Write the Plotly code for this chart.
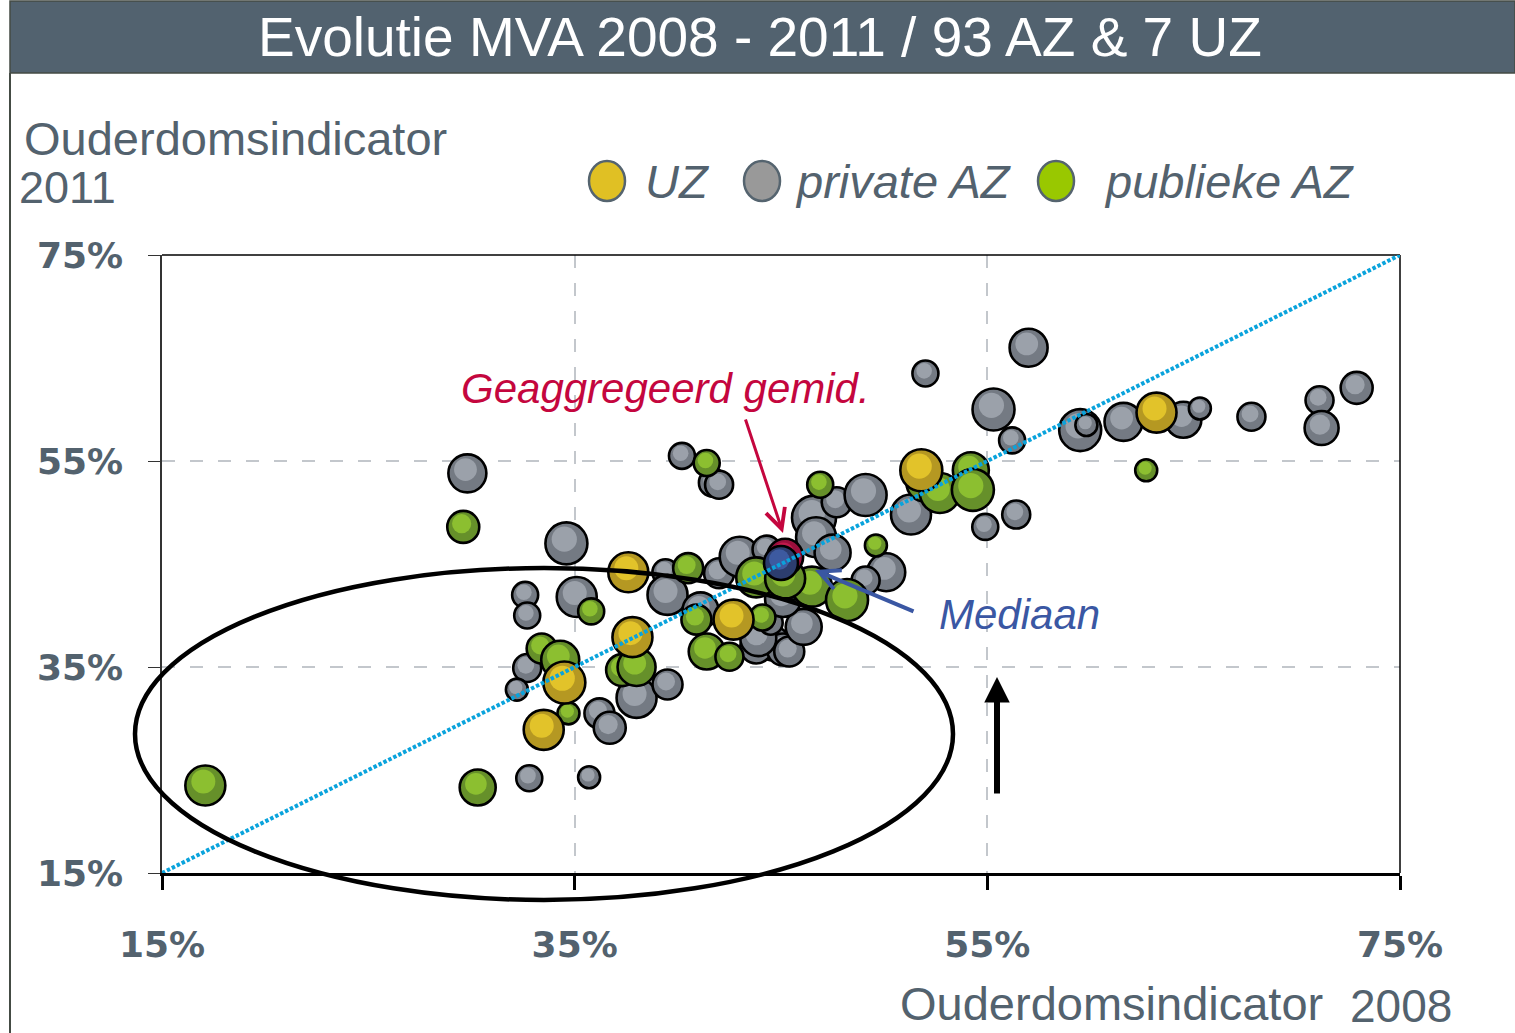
import plotly.graph_objects as go

# ---------------- data (percent) ----------------
# private AZ (grey)
private_x = [29.8, 34.6, 32.6, 32.7, 35.1, 40.2, 41.7, 42.0, 32.7, 32.2, 36.2, 36.7, 38.0, 39.5,
             32.8, 35.7, 39.4, 39.5, 41.1, 42.0, 43.0, 44.3, 44.6, 43.8, 45.1, 43.9, 45.4, 44.5,
             46.1, 46.6, 46.7, 47.5, 47.7, 49.1, 50.1, 49.1, 51.3, 52.0, 55.3, 56.2, 57.0, 54.9,
             56.4, 59.5, 59.8, 61.6, 64.5, 65.3, 67.8, 71.1, 71.2, 72.9, 45.1, 45.6]
private_y = [53.8, 47.0, 42.0, 40.0, 41.8, 55.5, 52.9, 52.7, 34.9, 32.8, 30.5, 29.1, 32.0, 33.3,
             24.2, 24.3, 44.2, 42.0, 40.5, 44.1, 45.7, 46.4, 37.3, 36.9, 36.7, 37.8, 36.5, 39.3,
             38.9, 49.5, 47.6, 46.1, 51.0, 51.7, 44.2, 43.4, 49.8, 63.5, 60.0, 57.0, 66.0, 48.6,
             49.8, 58.0, 58.5, 58.8, 59.0, 60.1, 59.3, 60.9, 58.2, 62.1, 41.6, 43.0]
private_size = [38, 42, 26, 26, 40, 26, 28, 28, 28, 22, 30, 32, 40, 30,
                26, 22, 26, 40, 36, 30, 40, 28, 34, 32, 32, 36, 30, 24,
                36, 44, 40, 36, 30, 42, 38, 28, 40, 26, 42, 26, 38, 26,
                28, 42, 22, 38, 36, 22, 28, 28, 34, 32, 36, 30]

# publieke AZ (green)
public_x = [17.1, 30.3, 29.6, 41.4, 35.8, 33.4, 34.3, 34.7, 37.3, 38.0, 40.5, 40.9, 41.4, 42.5,
            44.1, 43.8, 46.5, 48.2, 46.9, 49.6, 52.0, 52.7, 54.2, 54.3, 62.7, 45.2]
public_y = [23.5, 23.3, 48.6, 54.8, 40.4, 36.8, 35.7, 30.5, 34.7, 35.0, 44.6, 39.6, 36.5, 36.0,
            39.8, 43.7, 42.8, 41.5, 52.7, 46.8, 52.9, 51.9, 54.1, 52.2, 54.1, 43.6]
public_size = [40, 36, 32, 26, 26, 30, 38, 22, 32, 38, 30, 30, 36, 28,
               26, 40, 40, 42, 26, 22, 38, 40, 36, 42, 22, 40]

# UZ (yellow)
uz_x = [37.6, 37.8, 34.5, 33.5, 42.7, 51.8, 63.2]
uz_y = [44.2, 37.9, 33.5, 28.9, 39.6, 54.1, 59.7]
uz_size = [40, 40, 42, 40, 40, 42, 40]

# aggregated average & median
gemid_x, gemid_y, gemid_size = [45.2], [45.7], [36]
mediaan_x, mediaan_y, mediaan_size = [45.0], [45.1], [34]

tick_vals = [15, 35, 55, 75]
tick_text = ["15%", "35%", "55%", "75%"]
axis_range = [15, 75]

# ---------------- geometry ----------------
W, H = 1515, 1033
L, R, T, B = 162, 115, 255, 160
PW, PH = W - L - R, H - T - B
X_PER_PX = (axis_range[1] - axis_range[0]) / PW
Y_PER_PX = (axis_range[1] - axis_range[0]) / PH


def pxx(x):
    return (x - L) / PW


def pxy(y):
    return (H - B - y) / PH


SLATE = "#53626e"

# ---------------- bubbles ----------------
groups = [
    (private_x, private_y, private_size, "#747a83", "#9ba1aa"),
    (public_x, public_y, public_size, "#66902a", "#8cbf30"),
    (uz_x, uz_y, uz_size, "#b59822", "#e2c32a"),
    (gemid_x, gemid_y, gemid_size, "#9a0f3c", "#c01a4c"),
    (mediaan_x, mediaan_y, mediaan_size, "#2c3d6e", "#3d5aa0"),
]
bx, by, bs, bc, bw = [], [], [], [], []
for xs, ys, ss, c_out, c_hl in groups:
    for x, y, s in zip(xs, ys, ss):
        bx.append(x); by.append(y); bs.append(s); bc.append(c_out); bw.append(2.6)
        bx.append(x - 0.05 * s * X_PER_PX); by.append(y + 0.10 * s * Y_PER_PX)
        bs.append(0.6 * s); bc.append(c_hl); bw.append(0)

fig = go.Figure()
fig.add_trace(go.Scatter(
    x=bx, y=by, mode="markers", hoverinfo="skip", showlegend=False, cliponaxis=False,
    marker=dict(size=bs, sizemode="diameter", color=bc, opacity=1,
                line=dict(color="black", width=bw)),
))

shapes = []
# title bar
shapes.append(dict(type="rect", xref="paper", yref="paper", x0=pxx(10), x1=pxx(1515),
                   y0=pxy(73), y1=pxy(1), fillcolor="#52626f", line=dict(color="#444b44", width=1.5),
                   layer="above"))
# left page border
shapes.append(dict(type="line", xref="paper", yref="paper", x0=pxx(10), x1=pxx(10),
                   y0=pxy(1033), y1=pxy(73), line=dict(color="#444b44", width=2)))
# top & right frame
shapes.append(dict(type="line", xref="paper", yref="paper", x0=0, x1=1, y0=1, y1=1,
                   line=dict(color="black", width=1.5)))
shapes.append(dict(type="line", xref="paper", yref="paper", x0=1, x1=1, y0=0, y1=1,
                   line=dict(color="black", width=1.5)))
# diagonal
shapes.append(dict(type="line", xref="x", yref="y", x0=axis_range[0], y0=axis_range[0],
                   x1=axis_range[1], y1=axis_range[1],
                   line=dict(color="#0aa3dc", width=4, dash="3.5px,2px"), layer="above"))
# ellipse
shapes.append(dict(type="circle", xref="paper", yref="paper", x0=pxx(135), x1=pxx(953),
                   y0=pxy(900), y1=pxy(568), line=dict(color="black", width=4.5), layer="above"))
# legend symbols
for cx, col in [(607, "#e0c024"), (762, "#999999"), (1056, "#99c800")]:
    shapes.append(dict(type="circle", xref="paper", yref="paper", x0=pxx(cx - 18), x1=pxx(cx + 18),
                       y0=pxy(201), y1=pxy(161), fillcolor=col, line=dict(color="#55646f", width=2.5)))

ann = []
def txt(text, x, y, size, color=SLATE, anchor="left", italic=False, family="Liberation Sans"):
    ann.append(dict(text=text, xref="paper", yref="paper", x=pxx(x), y=pxy(y),
                    xanchor=anchor, yanchor="middle", showarrow=False,
                    font=dict(family=family, size=size, color=color,
                              style="italic" if italic else "normal")))

txt("Evolutie MVA 2008 - 2011 / 93 AZ &amp; 7 UZ", 760, 37, 55, color="white", anchor="center")
txt("Ouderdomsindicator", 22, 138, 47)
txt("2011", 17, 187, 45)
txt("UZ", 643, 182, 47, italic=True)
txt("private AZ", 793, 182, 47, italic=True)
txt("publieke AZ", 1102, 182, 47, italic=True)
txt("Ouderdomsindicator", 898, 1003, 47)
txt("2008", 1348, 1006, 46)
txt("Geaggregeerd gemid.", 665, 388, 42, color="#c4063e", anchor="center", italic=True)
txt("Mediaan", 1019, 614, 42, color="#3a57a3", anchor="center", italic=True)

# arrows
ann.append(dict(text="", xref="paper", yref="paper", x=pxx(783), y=pxy(533), ax=745 - 783,
                ay=418 - 533, showarrow=True, arrowhead=5, arrowsize=1.3, arrowwidth=3,
                arrowcolor="#c4063e"))
ann.append(dict(text="", xref="paper", yref="paper", x=pxx(815), y=pxy(570), ax=915 - 815,
                ay=612 - 570, showarrow=True, arrowhead=5, arrowsize=1.0, arrowwidth=4,
                arrowcolor="#3a57a3"))
ann.append(dict(text="", xref="paper", yref="paper", x=pxx(997), y=pxy(677), ax=0,
                ay=795 - 677, showarrow=True, arrowhead=2, arrowsize=0.85, arrowwidth=6,
                arrowcolor="black"))

tickfont = dict(family="DejaVu Sans", size=36, color=SLATE, weight="bold")
fig.update_layout(
    width=W, height=H, margin=dict(l=L, r=R, t=T, b=B, autoexpand=False),
    paper_bgcolor="white", plot_bgcolor="white", showlegend=False,
    shapes=shapes, annotations=ann,
    xaxis=dict(range=axis_range, tickvals=tick_vals, ticktext=tick_text, tickfont=tickfont,
               showgrid=True, gridcolor="#c3c7cc", gridwidth=1.5, griddash="13px,15px",
               zeroline=False, showline=True, linecolor="black", linewidth=3,
               ticks="outside", ticklen=14, tickwidth=3, tickcolor="black",
               ticklabelstandoff=24, fixedrange=True),
    yaxis=dict(range=axis_range, tickvals=tick_vals, ticktext=tick_text, tickfont=tickfont,
               showgrid=True, gridcolor="#c3c7cc", gridwidth=1.5, griddash="13px,15px",
               zeroline=False, showline=True, linecolor="#333333", linewidth=1.5,
               ticks="outside", ticklen=12, tickwidth=1.2, tickcolor="#333333",
               ticklabelstandoff=18, fixedrange=True),
)

fig.write_html("out.html", config={"displayModeBar": False},
               post_script="document.body.style.margin='0';document.body.style.overflow='hidden';")
